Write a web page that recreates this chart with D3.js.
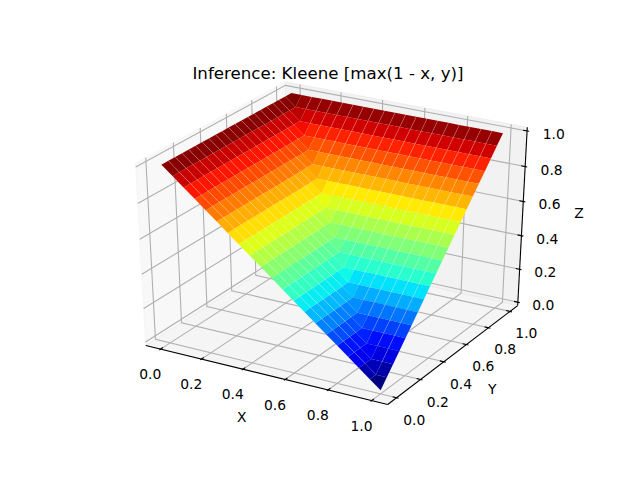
<!DOCTYPE html>
<html>
<head>
<meta charset="utf-8">
<script src="https://cdn.jsdelivr.net/npm/d3@7/dist/d3.min.js"></script>
<style>
html,body{margin:0;padding:0;background:#fff}
svg{display:block}
text{font-family:"DejaVu Sans",sans-serif;fill:#000}
</style>
</head>
<body>
<svg id="chart" width="640" height="480"></svg>
<script>
const chartTitle = "Inference: Kleene [max(1 - x, y)]";
const axisNames = ["X", "Y", "Z"];
const xValues = [0,.05,.1,.15,.2,.25,.3,.35,.4,.45,.5,.55,.6,.65,.7,.75,.8,.85,.9,.95,1];
const yValues = [0,.05,.1,.15,.2,.25,.3,.35,.4,.45,.5,.55,.6,.65,.7,.75,.8,.85,.9,.95,1];
// rows follow yValues, columns follow xValues
const zValues = [
[1,.95,.9,.85,.8,.75,.7,.65,.6,.55,.5,.45,.4,.35,.3,.25,.2,.15,.1,.05,0],
[1,.95,.9,.85,.8,.75,.7,.65,.6,.55,.5,.45,.4,.35,.3,.25,.2,.15,.1,.05,.05],
[1,.95,.9,.85,.8,.75,.7,.65,.6,.55,.5,.45,.4,.35,.3,.25,.2,.15,.1,.1,.1],
[1,.95,.9,.85,.8,.75,.7,.65,.6,.55,.5,.45,.4,.35,.3,.25,.2,.15,.15,.15,.15],
[1,.95,.9,.85,.8,.75,.7,.65,.6,.55,.5,.45,.4,.35,.3,.25,.2,.2,.2,.2,.2],
[1,.95,.9,.85,.8,.75,.7,.65,.6,.55,.5,.45,.4,.35,.3,.25,.25,.25,.25,.25,.25],
[1,.95,.9,.85,.8,.75,.7,.65,.6,.55,.5,.45,.4,.35,.3,.3,.3,.3,.3,.3,.3],
[1,.95,.9,.85,.8,.75,.7,.65,.6,.55,.5,.45,.4,.35,.35,.35,.35,.35,.35,.35,.35],
[1,.95,.9,.85,.8,.75,.7,.65,.6,.55,.5,.45,.4,.4,.4,.4,.4,.4,.4,.4,.4],
[1,.95,.9,.85,.8,.75,.7,.65,.6,.55,.5,.45,.45,.45,.45,.45,.45,.45,.45,.45,.45],
[1,.95,.9,.85,.8,.75,.7,.65,.6,.55,.5,.5,.5,.5,.5,.5,.5,.5,.5,.5,.5],
[1,.95,.9,.85,.8,.75,.7,.65,.6,.55,.55,.55,.55,.55,.55,.55,.55,.55,.55,.55,.55],
[1,.95,.9,.85,.8,.75,.7,.65,.6,.6,.6,.6,.6,.6,.6,.6,.6,.6,.6,.6,.6],
[1,.95,.9,.85,.8,.75,.7,.65,.65,.65,.65,.65,.65,.65,.65,.65,.65,.65,.65,.65,.65],
[1,.95,.9,.85,.8,.75,.7,.7,.7,.7,.7,.7,.7,.7,.7,.7,.7,.7,.7,.7,.7],
[1,.95,.9,.85,.8,.75,.75,.75,.75,.75,.75,.75,.75,.75,.75,.75,.75,.75,.75,.75,.75],
[1,.95,.9,.85,.8,.8,.8,.8,.8,.8,.8,.8,.8,.8,.8,.8,.8,.8,.8,.8,.8],
[1,.95,.9,.85,.85,.85,.85,.85,.85,.85,.85,.85,.85,.85,.85,.85,.85,.85,.85,.85,.85],
[1,.95,.9,.9,.9,.9,.9,.9,.9,.9,.9,.9,.9,.9,.9,.9,.9,.9,.9,.9,.9],
[1,.95,.95,.95,.95,.95,.95,.95,.95,.95,.95,.95,.95,.95,.95,.95,.95,.95,.95,.95,.95],
[1,1,1,1,1,1,1,1,1,1,1,1,1,1,1,1,1,1,1,1,1]
];
const tickValues = [0,.2,.4,.6,.8,1];
const xLim = [-0.05, 1.05], yLim = [-0.05, 1.05], zLim = [0, 1];
const jetRed   = {d:[0,.35,.66,.89,1], r:[0,0,1,1,.5]};
const jetGreen = {d:[0,.125,.375,.64,.91,1], r:[0,0,1,1,0,0]};
const jetBlue  = {d:[0,.11,.34,.65,1], r:[.5,1,1,0,0]};

const svg = d3.select("#chart");
const W = 640, H = 480;
const sx = d3.scaleLinear().domain([-0.095, 0.09]).range([0.125*W, 0.9*W]);
const sy = d3.scaleLinear().domain([-0.095, 0.09]).range([H-0.11*H, H-0.88*H]);

const wx = d3.scaleLinear().domain(xLim).range([0,1]);
const wy = d3.scaleLinear().domain(yLim).range([0,1]);
const wz = d3.scaleLinear().domain(zLim).range([0,1]);

const az = -60*Math.PI/180, el = 30*Math.PI/180, dist = 10;
const n = [Math.cos(az)*Math.cos(el), Math.sin(az)*Math.cos(el), Math.sin(el)];
const nu = Math.hypot(n[0], n[1]);
const u = [-n[1]/nu, n[0]/nu, 0];
const v = [n[1]*u[2]-n[2]*u[1], n[2]*u[0]-n[0]*u[2], n[0]*u[1]-n[1]*u[0]];
const dot = (a,b)=>a[0]*b[0]+a[1]*b[1]+a[2]*b[2];
function proj(p){
  const d = [wx(p[0])-.5, wy(p[1])-.5, wz(p[2])-.5];
  const w = dist - dot(n,d);
  return {x: sx(dot(u,d)/w), y: sy(dot(v,d)/w), w};
}
const line = d3.line().x(d=>proj(d).x).y(d=>proj(d).y);

const lims = [xLim,yLim,zLim];
const deltas = lims.map(l=>(l[1]-l[0])/12);
const lo = lims.map((l,i)=>l[0]-deltas[i]/4);
const hi = lims.map((l,i)=>l[1]+deltas[i]/4);
const perPoint = 48/(72*(0.775*6.4+0.77*4.8));
const tickShift = (3.5+8)*perPoint, labelShift = (4+21)*perPoint;

const panes = [
  {c:0.95, pts:[[lo[0],lo[1],lo[2]],[lo[0],hi[1],lo[2]],[lo[0],hi[1],hi[2]],[lo[0],lo[1],hi[2]]]},
  {c:0.90, pts:[[lo[0],hi[1],lo[2]],[hi[0],hi[1],lo[2]],[hi[0],hi[1],hi[2]],[lo[0],hi[1],hi[2]]]},
  {c:0.925,pts:[[lo[0],lo[1],lo[2]],[hi[0],lo[1],lo[2]],[hi[0],hi[1],lo[2]],[lo[0],hi[1],lo[2]]]}
];
svg.append("g").selectAll("path").data(panes).join("path")
  .attr("d",d=>line(d.pts)+"Z")
  .attr("fill",d=>d3.rgb(d.c*255,d.c*255,d.c*255))
  .attr("fill-opacity",.5)
  .attr("stroke",d=>d3.rgb(d.c*255,d.c*255,d.c*255))
  .attr("stroke-opacity",.5).attr("stroke-width",1);

const grid = [];
tickValues.forEach(t=>{
  grid.push([[t,lo[1],lo[2]],[t,hi[1],lo[2]],[t,hi[1],hi[2]]]);
  grid.push([[hi[0],t,lo[2]],[lo[0],t,lo[2]],[lo[0],t,hi[2]]]);
  grid.push([[hi[0],hi[1],t],[lo[0],hi[1],t],[lo[0],lo[1],t]]);
});
svg.append("g").selectAll("path").data(grid).join("path")
  .attr("d",line).attr("fill","none").attr("stroke","#b0b0b0").attr("stroke-width",1.1);

const axes = [
  [[lo[0],lo[1],lo[2]],[hi[0],lo[1],lo[2]]],
  [[hi[0],lo[1],lo[2]],[hi[0],hi[1],lo[2]]],
  [[hi[0],hi[1],lo[2]],[hi[0],hi[1],hi[2]]]
];
svg.append("g").selectAll("path").data(axes).join("path")
  .attr("d",line).attr("fill","none").attr("stroke","#000").attr("stroke-width",1.1);

const ticks = [], labels = [];
tickValues.forEach(t=>{
  const s = t.toFixed(1);
  ticks.push([[t,lo[1]-.1*deltas[1],lo[2]],[t,lo[1]+.2*deltas[1],lo[2]]]);
  labels.push({s,p:[t,lo[1]-tickShift*deltas[1],lo[2]-tickShift*deltas[2]]});
  ticks.push([[hi[0]+.1*deltas[0],t,lo[2]],[hi[0]-.2*deltas[0],t,lo[2]]]);
  labels.push({s,p:[hi[0]+tickShift*deltas[0],t,lo[2]-tickShift*deltas[2]]});
  ticks.push([[hi[0]+.1*deltas[0],hi[1],t],[hi[0]-.2*deltas[0],hi[1],t]]);
  labels.push({s,p:[hi[0]+tickShift*deltas[0],hi[1]+tickShift*deltas[1],t]});
});
svg.append("g").selectAll("path").data(ticks).join("path")
  .attr("d",line).attr("fill","none").attr("stroke","#000").attr("stroke-width",1.1);
svg.append("g").selectAll("text").data(labels).join("text")
  .attr("x",d=>proj(d.p).x).attr("y",d=>proj(d.p).y+10.5)
  .attr("text-anchor","middle").attr("font-size",13.89).text(d=>d.s);

const mid = lims.map(l=>(l[0]+l[1])/2);
const namePos = [
  [mid[0],lo[1]-labelShift*deltas[1],lo[2]-labelShift*deltas[2]],
  [hi[0]+labelShift*deltas[0],mid[1],lo[2]-labelShift*deltas[2]],
  [hi[0]+labelShift*deltas[0],hi[1]+labelShift*deltas[1],mid[2]]
];
svg.append("g").selectAll("text").data(axisNames).join("text")
  .attr("x",(d,i)=>proj(namePos[i]).x).attr("y",(d,i)=>proj(namePos[i]).y+5)
  .attr("text-anchor","middle").attr("font-size",13.89).text(d=>d);

const cells = [], cellAt = {};
for (let i=0;i<yValues.length-1;i++) for (let j=0;j<xValues.length-1;j++){
  const pts = [[j,i],[j+1,i],[j+1,i+1],[j,i+1]].map(([a,b])=>[xValues[a],yValues[b],zValues[b][a]]);
  // the closed outline counts its first corner twice
  const ring = pts.concat([pts[0]]);
  const cell = {i, j, pts, z:d3.mean(ring,p=>p[2]), depth:d3.mean(pts,p=>proj(p).w)};
  cells.push(cell);
  cellAt[i+"_"+j] = cell;
}
const seams = [];
cells.forEach(c=>{
  const right = cellAt[c.i+"_"+(c.j+1)], up = cellAt[(c.i+1)+"_"+c.j];
  if (right && Math.abs(right.z-c.z)<.006) seams.push([c.pts[1],c.pts[2]]);
  if (up && Math.abs(up.z-c.z)<.006) seams.push([c.pts[3],c.pts[2]]);
});
cells.sort((a,b)=>b.depth-a.depth);
const norm = d3.scaleLinear().domain(d3.extent(cells,c=>c.z)).range([0,1]);
const ch = s => d3.scaleLinear().domain(s.d).range(s.r);
const cr = ch(jetRed), cg = ch(jetGreen), cb = ch(jetBlue);
const jet = t => { const q = Math.min(255,Math.floor(t*256))/255;
  return d3.rgb(Math.round(cr(q)*255),Math.round(cg(q)*255),Math.round(cb(q)*255)); };
svg.append("g").selectAll("path").data(cells).join("path")
  .attr("d",d=>line(d.pts)+"Z").attr("fill",d=>jet(norm(d.z)));

// light seams between neighbouring cells of the same colour
svg.append("g").selectAll("path").data(seams).join("path")
  .attr("d",line).attr("fill","none").attr("stroke","#fff")
  .attr("stroke-opacity",.25).attr("stroke-width",.8);

svg.append("text").attr("x",328).attr("y",78.5).attr("text-anchor","middle")
  .attr("font-size",16.67).text(chartTitle);
</script>
</body>
</html>
